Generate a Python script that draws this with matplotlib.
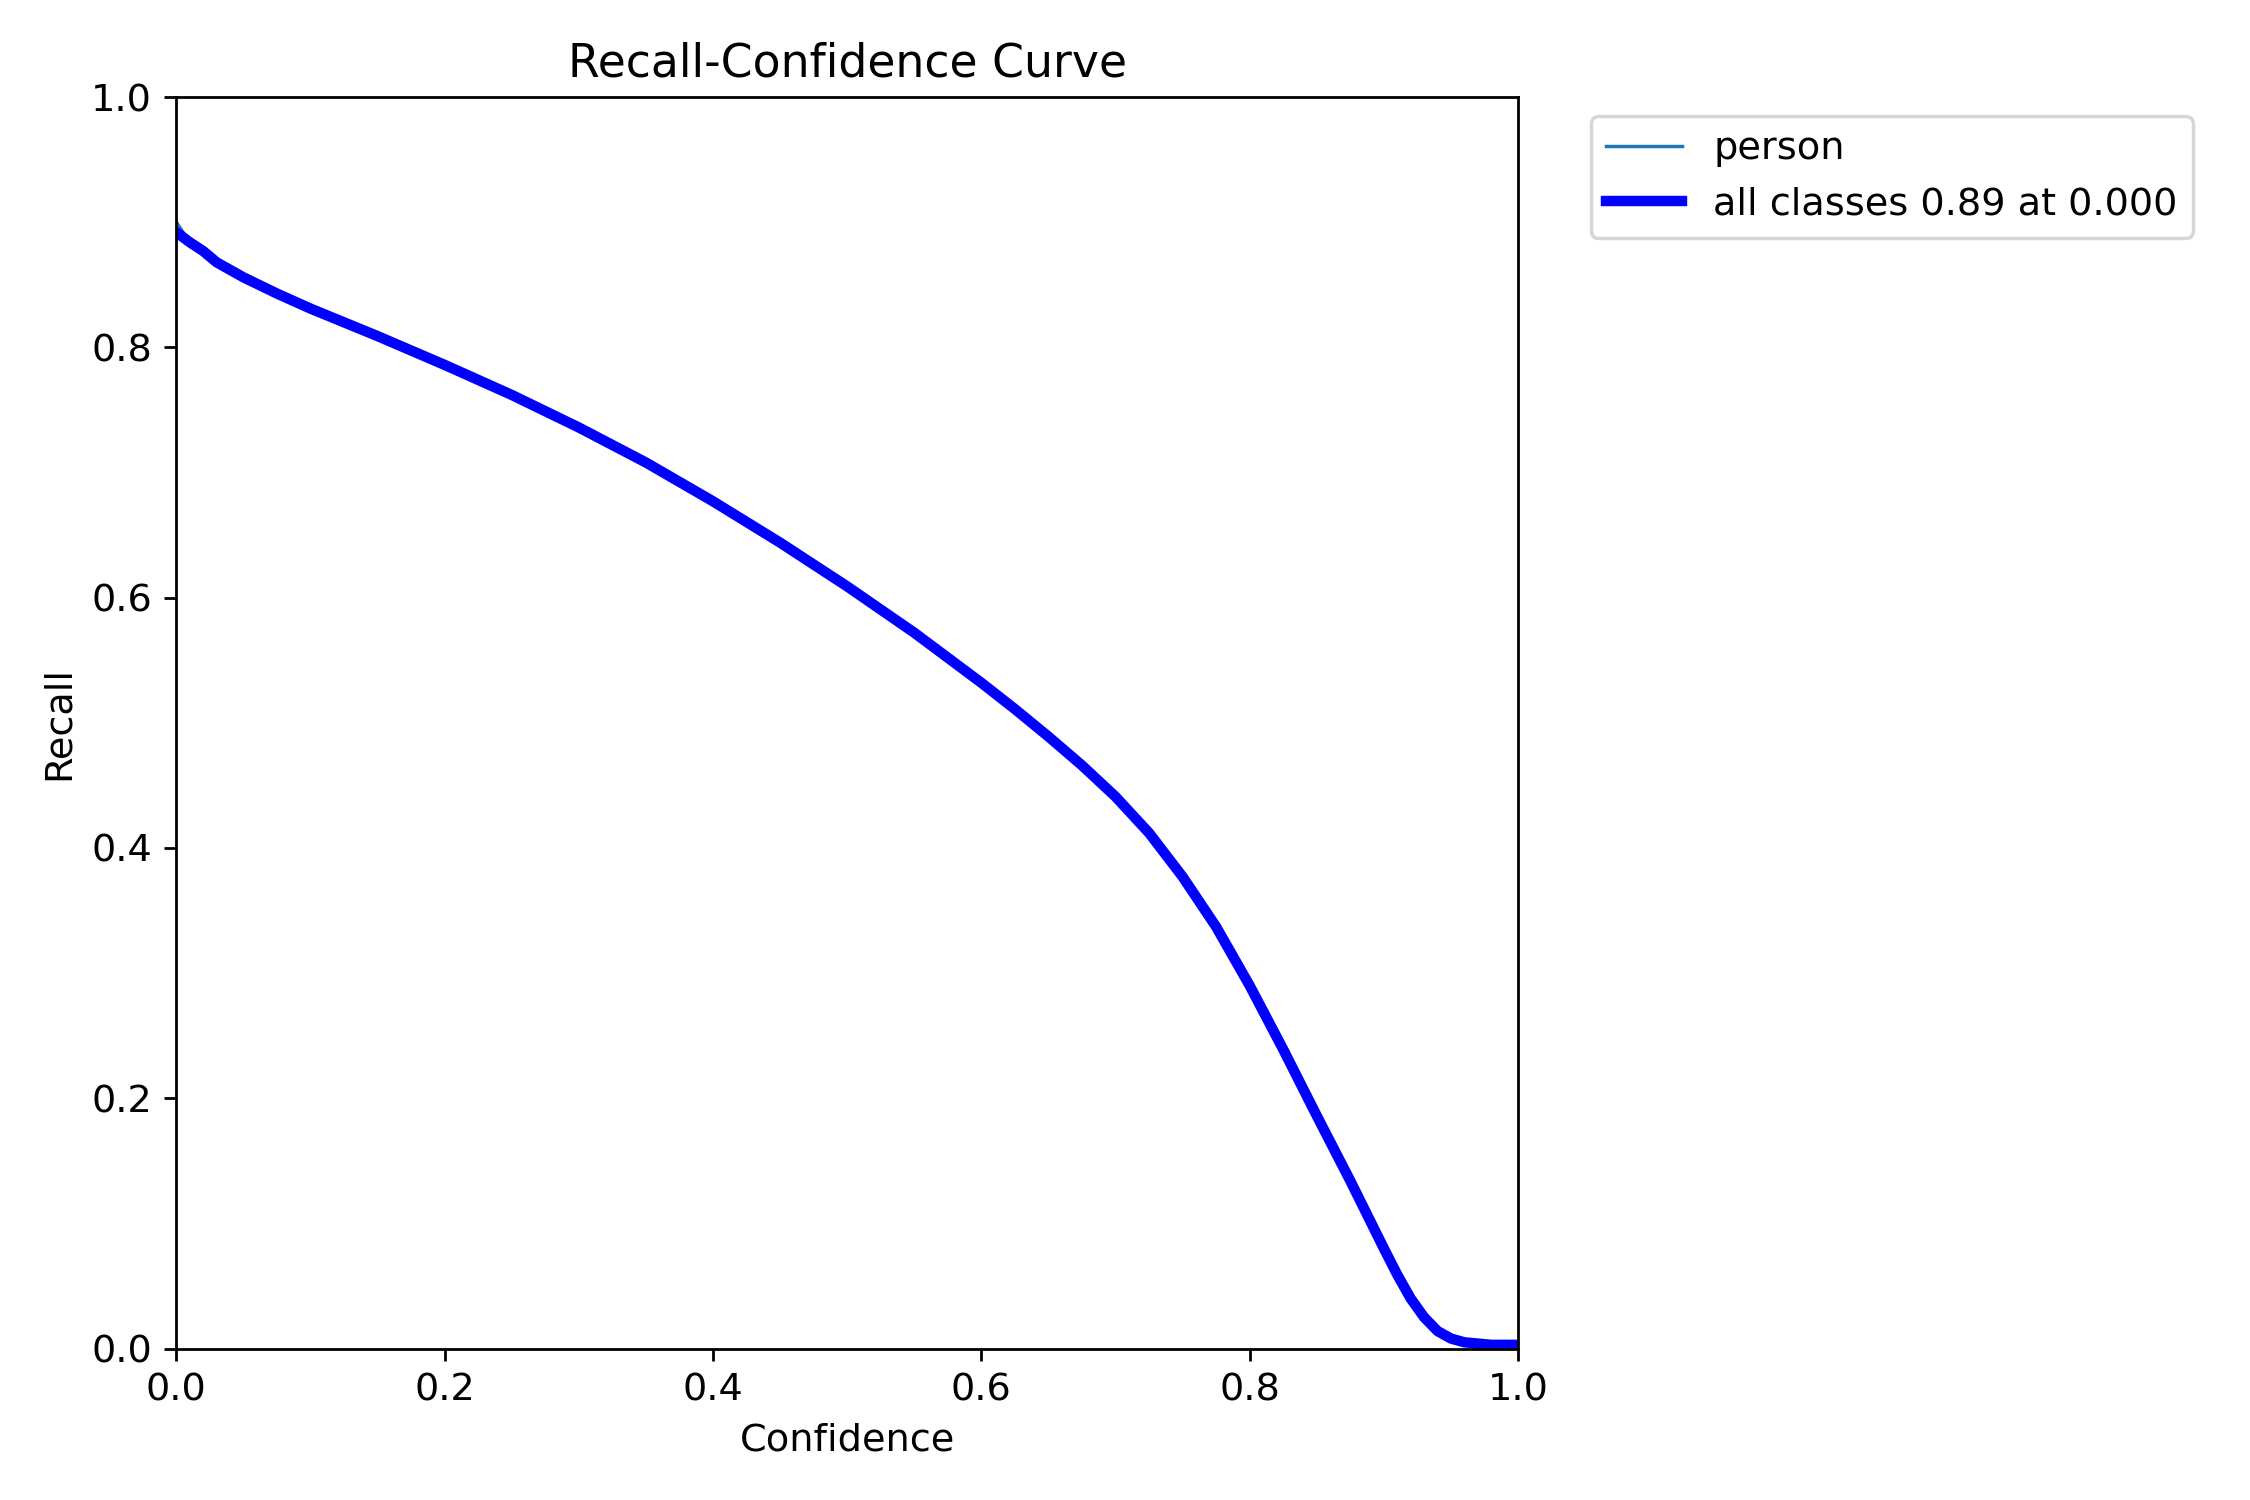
import matplotlib
matplotlib.use("Agg")
from matplotlib import pyplot as plt

plt.rcParams["font.size"] = 11

# confidence threshold vs recall
conf = [0.000, 0.010, 0.020, 0.030, 0.040, 0.050, 0.075, 0.100, 0.150, 0.200,
        0.250, 0.300, 0.350, 0.400, 0.450, 0.500, 0.550, 0.600, 0.625, 0.650,
        0.675, 0.700, 0.725, 0.750, 0.775, 0.800, 0.825, 0.850, 0.875, 0.900,
        0.910, 0.920, 0.930, 0.940, 0.950, 0.960, 0.970, 0.980, 1.000]
recall_all = [0.892, 0.884, 0.877, 0.868, 0.862, 0.856, 0.843, 0.831, 0.809, 0.786,
              0.762, 0.736, 0.708, 0.677, 0.644, 0.609, 0.572, 0.532, 0.511, 0.489,
              0.466, 0.441, 0.412, 0.377, 0.337, 0.290, 0.239, 0.186, 0.134, 0.080,
              0.059, 0.040, 0.025, 0.014, 0.008, 0.005, 0.004, 0.003, 0.003]
# per-class curve is not smoothed, so it pokes out a little at the ends
recall_person = [0.900, 0.884, 0.877, 0.868, 0.862, 0.856, 0.843, 0.831, 0.809, 0.786,
                 0.762, 0.736, 0.708, 0.677, 0.644, 0.609, 0.572, 0.532, 0.511, 0.489,
                 0.466, 0.441, 0.412, 0.377, 0.337, 0.290, 0.239, 0.186, 0.133, 0.078,
                 0.057, 0.038, 0.023, 0.012, 0.006, 0.004, 0.003, 0.002, 0.002]

names = ["person"]
best_recall = 0.89
best_conf = 0.000


def plot_curve():
    fig, ax = plt.subplots(1, 1, figsize=(9, 6), tight_layout=True)
    ax.plot(conf, recall_person, linewidth=1, label=names[0])
    ax.plot(conf, recall_all, linewidth=3, color="blue",
            label=f"all classes {best_recall:.2f} at {best_conf:.3f}")
    ax.set_xlabel("Confidence")
    ax.set_ylabel("Recall")
    ax.set_xlim(0, 1)
    ax.set_ylim(0, 1)
    ax.legend(bbox_to_anchor=(1.04, 1), loc="upper left")
    ax.set_title("Recall-Confidence Curve")
    fig.savefig("out.png", dpi=250)
    plt.close(fig)


if __name__ == "__main__":
    plot_curve()
